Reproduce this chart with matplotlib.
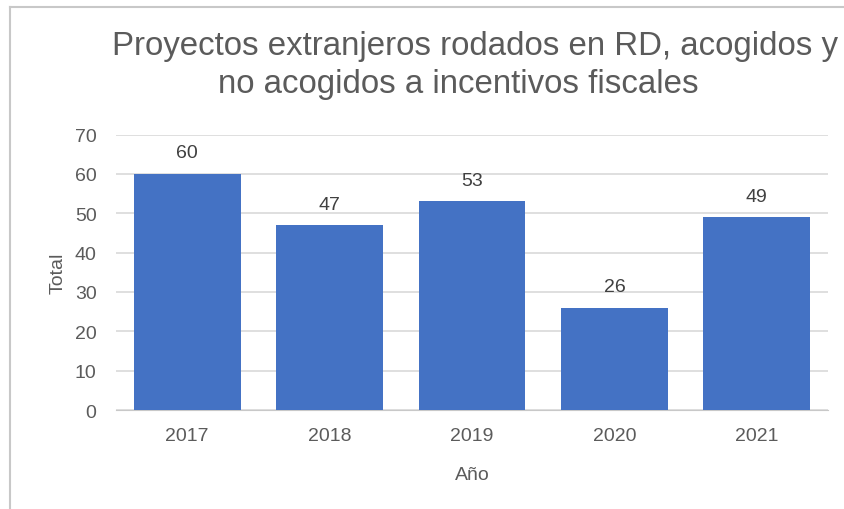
import numpy as np
import matplotlib.pyplot as plt

plt.rcParams["font.family"] = ["Liberation Sans", "DejaVu Sans"]

years = ["2017", "2018", "2019", "2020", "2021"]
totals = [60, 47, 53, 26, 49]
title_line1 = "Proyectos extranjeros rodados en RD, acogidos y"
title_line2 = "no acogidos a incentivos fiscales"

text_col = "#5b5b5b"
bar_col = "#4472c4"

fig = plt.figure(figsize=(8.44, 5.10), dpi=100)
ax = fig.add_axes([116 / 844, 1 - 411 / 510, (828 - 116) / 844, (411 - 135.5) / 510])

x = np.arange(len(years))
bars = ax.bar(x, totals, width=0.75, color=bar_col, zorder=3)
for b, v in zip(bars, totals):
    ax.annotate(str(v), (b.get_x() + b.get_width() / 2, v), xytext=(0, 9),
                textcoords="offset points", ha="center", va="bottom",
                fontsize=14, color="#404040")

ax.set_xlim(-0.5, len(years) - 0.5)
ax.set_ylim(0, 70)
ax.set_yticks(range(0, 71, 10))
ax.set_xticks(x)
ax.set_xticklabels(years)
ax.tick_params(axis="both", length=0, labelsize=14, labelcolor=text_col)
ax.tick_params(axis="y", pad=14)
ax.tick_params(axis="x", pad=12)
ax.grid(axis="y", color="#d9d9d9", linewidth=1.2, zorder=0)
for s in ["top", "right", "left"]:
    ax.spines[s].set_visible(False)
ax.spines["bottom"].set_color("#c8c8c8")

ax.set_xlabel("Año", fontsize=14, color=text_col, labelpad=16)
ax.set_ylabel("Total", fontsize=14, color=text_col, labelpad=6)

fig.text(112 / 844, 1 - 47 / 510, title_line1, fontsize=23.8, color=text_col,
         ha="left", va="center")
fig.text(218 / 844, 1 - 85 / 510, title_line2, fontsize=23.8, color=text_col,
         ha="left", va="center")

# outer frame (left and top edges visible)
fig.add_artist(plt.Line2D([10 / 844, 10 / 844], [0, 1 - 8 / 510], color="#c8c8c8", lw=1.5))
fig.add_artist(plt.Line2D([10 / 844, 1], [1 - 8 / 510, 1 - 8 / 510], color="#c8c8c8", lw=1.5))

fig.savefig("out.png", dpi=100)
